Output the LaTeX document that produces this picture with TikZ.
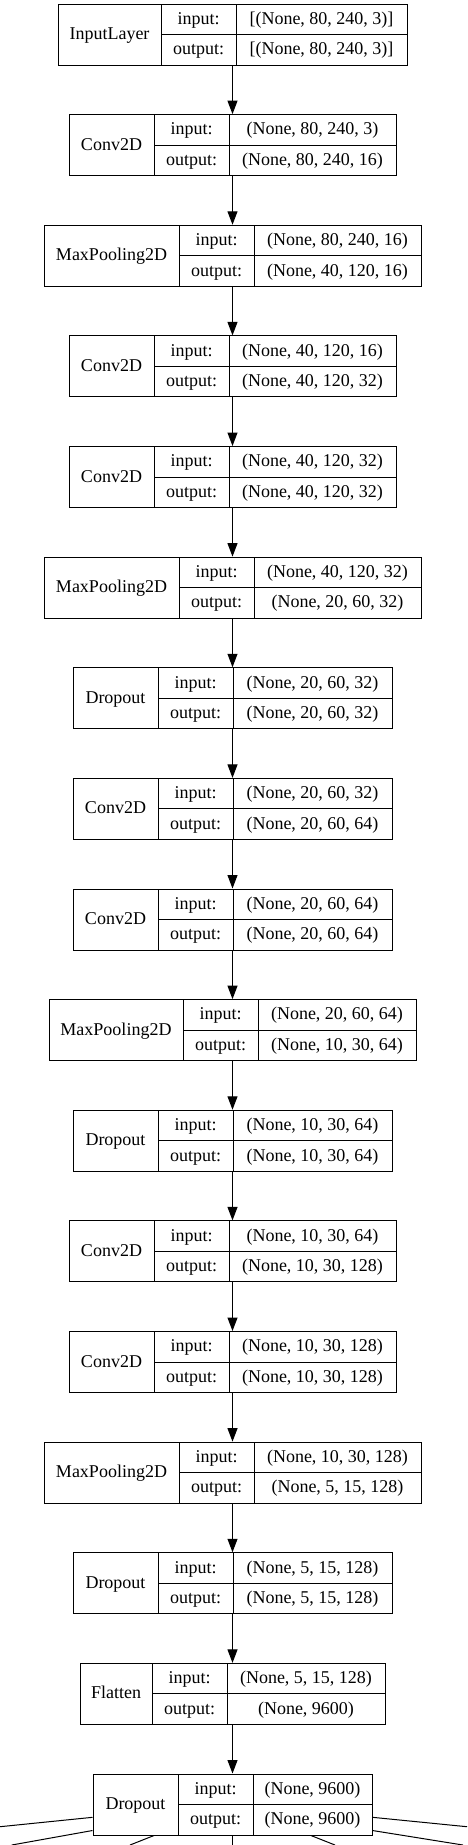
\documentclass[tikz,border=0pt]{standalone}
\usepackage{fontspec}
\setmainfont{Liberation Serif}
\usetikzlibrary{arrows.meta}

\begin{document}
\begin{tikzpicture}[x=1pt, y=-1pt, font=\fontsize{18}{20}\selectfont, layer/.style = {shape=rectangle, draw, line width=1pt, inner sep=0pt, minimum height=61pt}, cell/.style = {inner sep=0pt, text height=14pt, text depth=4pt}, flow/.style = {line width=1pt, -{Triangle[length=13.5pt, width=10pt]}}, fan/.style = {line width=1pt}]
	\useasboundingbox (0,0) rectangle (467,1845);
	% one record per layer: index/name/column edges/input/output
	\foreach \i/\name/\xa/\xb/\xc/\xd/\inp/\outp in {
		0/InputLayer/58/161/236/407/{[(None, 80, 240, 3)]}/{[(None, 80, 240, 3)]},
		1/Conv2D/69/154/229/396/{(None, 80, 240, 3)}/{(None, 80, 240, 16)},
		2/MaxPooling2D/44/179/254/421/{(None, 80, 240, 16)}/{(None, 40, 120, 16)},
		3/Conv2D/69/154/229/396/{(None, 40, 120, 16)}/{(None, 40, 120, 32)},
		4/Conv2D/69/154/229/396/{(None, 40, 120, 32)}/{(None, 40, 120, 32)},
		5/MaxPooling2D/44/179/254/421/{(None, 40, 120, 32)}/{(None, 20, 60, 32)},
		6/Dropout/73/158/233/392/{(None, 20, 60, 32)}/{(None, 20, 60, 32)},
		7/Conv2D/73/158/233/392/{(None, 20, 60, 32)}/{(None, 20, 60, 64)},
		8/Conv2D/73/158/233/392/{(None, 20, 60, 64)}/{(None, 20, 60, 64)},
		9/MaxPooling2D/49/183/258/416/{(None, 20, 60, 64)}/{(None, 10, 30, 64)},
		10/Dropout/73/158/233/392/{(None, 10, 30, 64)}/{(None, 10, 30, 64)},
		11/Conv2D/69/154/229/396/{(None, 10, 30, 64)}/{(None, 10, 30, 128)},
		12/Conv2D/69/154/229/396/{(None, 10, 30, 128)}/{(None, 10, 30, 128)},
		13/MaxPooling2D/44/179/254/421/{(None, 10, 30, 128)}/{(None, 5, 15, 128)},
		14/Dropout/73/158/233/392/{(None, 5, 15, 128)}/{(None, 5, 15, 128)},
		15/Flatten/80/152/227/385/{(None, 5, 15, 128)}/{(None, 9600)},
		16/Dropout/93/178/253/372/{(None, 9600)}/{(None, 9600)}}
	{
		\pgfmathsetmacro\yt{4+110.625*\i}
		\pgfmathsetmacro\yb{\yt+61}
		\pgfmathsetmacro\ym{\yt+30.5}
		\pgfmathsetmacro\w{\xd-\xa}
		\node[layer, minimum width=\w pt] (b\i) at ({(\xa+\xd)/2}, \ym) {};
		\draw[line width=1pt] (\xb,\yt) -- (\xb,\yb) (\xc,\yt) -- (\xc,\yb) (\xb,\ym) -- (\xd,\ym);
		\node[cell] (n\i) at ({(\xa+\xb)/2}, \ym) {\name};
		\node[cell] (li\i) at ({(\xb+\xc)/2}, \yt+15.25) {input:};
		\node[cell] (lo\i) at ({(\xb+\xc)/2}, \yt+45.75) {output:};
		\node[cell] (vi\i) at ({(\xc+\xd)/2}, \yt+15.25) {\inp};
		\node[cell] (vo\i) at ({(\xc+\xd)/2}, \yt+45.75) {\outp};
	}
	\foreach \i [evaluate=\i as \j using int(\i+1)] in {0,...,15}
		\draw[flow] (b\i.south) -- (b\j.north);
	% edges leaving the last layer towards the outputs below
	\coordinate (d1) at (0,1826.7);
	\coordinate (d2) at (11.7,1845);
	\coordinate (d3) at (130,1845);
	\coordinate (d4) at (232.5,1845);
	\coordinate (d5) at (335,1845);
	\coordinate (d6) at (467,1826.7);
	\coordinate (d7) at (463,1845);
	\draw[fan] ([yshift=-12.8pt]b16.west) -- (d1);
	\draw[fan] ([yshift=-26pt]b16.west) -- (d2);
	\draw[fan] ([xshift=-78.5pt]b16.south) -- (d3);
	\draw[fan] (b16.south) -- (d4);
	\draw[fan] ([xshift=78.5pt]b16.south) -- (d5);
	\draw[fan] ([yshift=-12.8pt]b16.east) -- (d6);
	\draw[fan] ([yshift=-26pt]b16.east) -- (d7);
\end{tikzpicture}
\end{document}
